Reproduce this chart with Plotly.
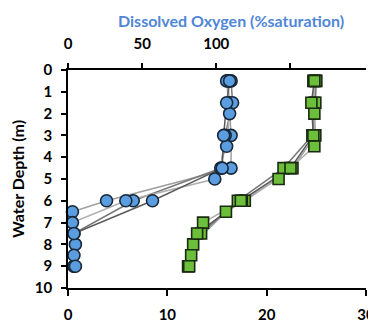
import plotly.graph_objects as go

# Dissolved oxygen profiles (% saturation) vs depth (m)
do_depth_a = [0.5, 1.5, 3.0, 4.5, 6.0, 6.5, 8.0, 9.0]
do_vals_a = [108, 109, 110, 110, 26, 3, 5, 4]
do_depth_b = [0.5, 1.5, 3.0, 4.5, 6.0, 7.5, 9.0]
do_vals_b = [110, 111, 106, 103, 44, 4, 4]
do_depth_c = [0.5, 2.0, 3.5, 5.0, 6.0, 7.0, 8.5]
do_vals_c = [107, 109, 107, 99, 39, 3, 4]
do_depth_d = [0.5, 1.5, 3.0, 4.5, 6.0, 7.5, 9.0]
do_vals_d = [109, 107, 105, 104, 57, 4, 5]

# Water temperature profiles (bottom axis) vs depth (m)
t_depth_a = [0.5, 1.5, 3.0, 4.5, 6.0, 6.5, 8.0, 9.0]
t_vals_a = [24.9, 24.8, 24.9, 22.6, 17.8, 15.9, 12.6, 12.1]
t_depth_b = [0.5, 1.5, 3.0, 4.5, 6.0, 7.5, 9.0]
t_vals_b = [25.0, 24.9, 24.6, 21.7, 17.1, 13.4, 12.1]
t_depth_c = [0.5, 2.0, 3.5, 5.0, 6.0, 7.0, 8.5]
t_vals_c = [24.7, 24.8, 24.8, 21.2, 17.5, 13.6, 12.4]
t_depth_d = [0.5, 1.5, 3.0, 4.5, 6.0, 7.5, 9.0]
t_vals_d = [24.8, 24.5, 24.7, 22.4, 17.4, 13.0, 12.2]

depth_ticks = list(range(0, 11))
top_tickvals = [0, 50, 100, 150]
top_ticktext = ["0", "50", "100", ""]
bottom_ticks = [0, 10, 20, 30]

do_sets = [(do_depth_a, do_vals_a), (do_depth_b, do_vals_b), (do_depth_c, do_vals_c), (do_depth_d, do_vals_d)]
t_sets = [(t_depth_a, t_vals_a), (t_depth_b, t_vals_b), (t_depth_c, t_vals_c), (t_depth_d, t_vals_d)]

line_colors = ["rgb(160,160,160)", "rgb(120,120,120)", "rgb(175,175,175)", "rgb(90,90,90)"]

fig = go.Figure()

# lines first
for i, (d, v) in enumerate(t_sets):
    fig.add_trace(go.Scatter(x=v, y=d, mode="lines", xaxis="x", yaxis="y",
                             line=dict(color=line_colors[i], width=1.5), showlegend=False, hoverinfo="skip"))
for i, (d, v) in enumerate(do_sets):
    fig.add_trace(go.Scatter(x=v, y=d, mode="lines", xaxis="x2", yaxis="y",
                             line=dict(color=line_colors[i], width=1.5), showlegend=False, hoverinfo="skip"))
# markers
for d, v in t_sets:
    fig.add_trace(go.Scatter(x=v, y=d, mode="markers", xaxis="x", yaxis="y",
                             marker=dict(symbol="square", size=11, color="#6bbf3a",
                                         line=dict(color="#1b2a12", width=1.6)),
                             showlegend=False, cliponaxis=False))
for d, v in do_sets:
    fig.add_trace(go.Scatter(x=v, y=d, mode="markers", xaxis="x2", yaxis="y",
                             marker=dict(symbol="circle", size=12, color="#5b9ee0",
                                         line=dict(color="#18283a", width=1.6)),
                             showlegend=False, cliponaxis=False))

tickfont = dict(family="Lato, Open Sans, sans-serif", size=15, color="black", weight="bold")

fig.update_layout(
    width=376, height=322,
    margin=dict(l=60, r=18, t=62, b=42),
    paper_bgcolor="white", plot_bgcolor="white",
    xaxis=dict(range=[0, 30], tickvals=bottom_ticks, ticks="outside", ticklen=6, automargin=False,
               tickwidth=1.5, tickcolor="black", showline=True, linecolor="black", linewidth=1.5,
               showgrid=False, zeroline=False, tickfont=tickfont, ticklabelstandoff=6),
    xaxis2=dict(range=[0, 201], overlaying="x", side="top", tickvals=top_tickvals, automargin=False,
                ticktext=top_ticktext, ticks="outside", ticklen=5, tickwidth=1.5, tickcolor="black",
                showline=True, linecolor="black", linewidth=1.5, showgrid=False, zeroline=False,
                tickfont=tickfont, ticklabelstandoff=8),
    yaxis=dict(range=[10, 0], tickvals=depth_ticks, ticks="outside", ticklen=5, tickwidth=1.5,
               tickcolor="black", showline=True, linecolor="black", linewidth=1.5, showgrid=False,
               zeroline=False, tickfont=tickfont, ticklabelstandoff=6, automargin=False,
               title=dict(text="Water Depth (m)", standoff=6,
                          font=dict(family="Lato, Open Sans, sans-serif", size=16,
                                    color="black", weight="bold"))),
    annotations=[dict(text="Dissolved Oxygen (%saturation)", xref="paper", yref="paper",
                      x=0.547, y=1.0, yshift=50, showarrow=False, xanchor="center", yanchor="middle",
                      font=dict(family="Lato, Open Sans, sans-serif", size=16, color="#4f86d6",
                                weight="bold"))],
)

fig.write_html("out.html")
